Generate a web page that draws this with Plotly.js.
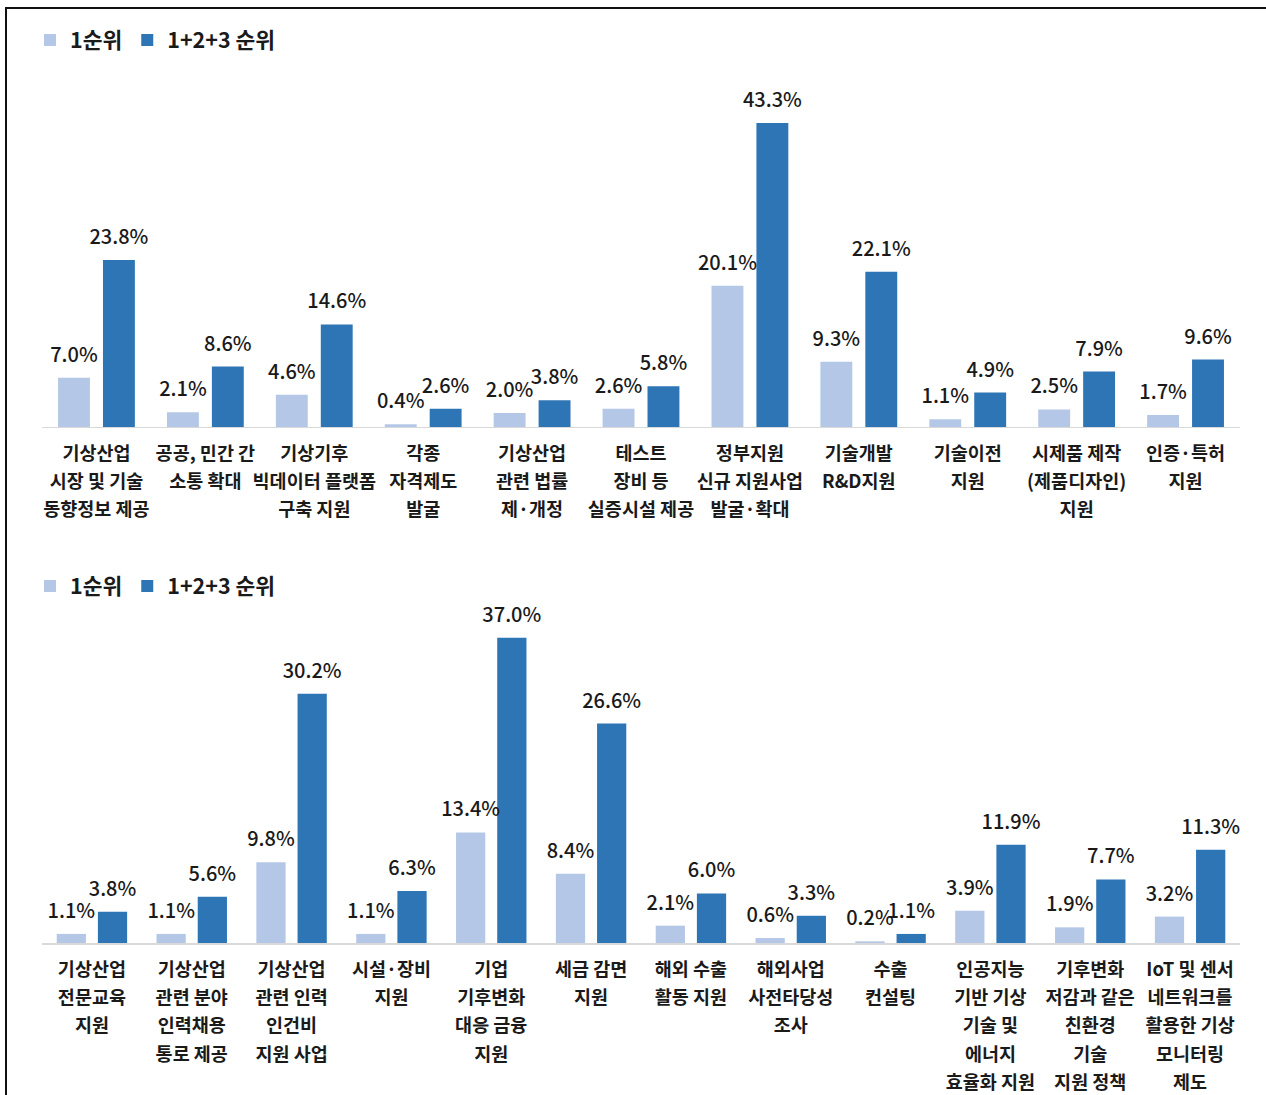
<!DOCTYPE html>
<html>
<head>
<meta charset="utf-8">
<script src="https://cdn.plot.ly/plotly-3.0.1.min.js"></script>
<style>
  html, body { margin: 0; padding: 0; background: #ffffff; }
  #chart { width: 1266px; height: 1095px; position: absolute; left: 0; top: 0; }
  #frame { position: absolute; left: 5px; top: 7px; width: 1400px; height: 1200px;
           border-left: 2px solid #111; border-top: 2px solid #111; pointer-events: none; }
</style>
</head>
<body>
<div id="chart"></div>
<div id="frame"></div>
<script>
// ---- Top chart data ----
const topCategories = [
  '기상산업<br>시장 및 기술<br>동향정보 제공',
  '공공, 민간 간<br>소통 확대',
  '기상기후<br>빅데이터 플랫폼<br>구축 지원',
  '각종<br>자격제도<br>발굴',
  '기상산업<br>관련 법률<br>제·개정',
  '테스트<br>장비 등<br>실증시설 제공',
  '정부지원<br>신규 지원사업<br>발굴·확대',
  '기술개발<br>R&D지원',
  '기술이전<br>지원',
  '시제품 제작<br>(제품디자인)<br>지원',
  '인증·특허<br>지원'
];
const topRank1 = [7.0, 2.1, 4.6, 0.4, 2.0, 2.6, 20.1, 9.3, 1.1, 2.5, 1.7];
const topRank123 = [23.8, 8.6, 14.6, 2.6, 3.8, 5.8, 43.3, 22.1, 4.9, 7.9, 9.6];

// ---- Bottom chart data ----
const botCategories = [
  '기상산업<br>전문교육<br>지원',
  '기상산업<br>관련 분야<br>인력채용<br>통로 제공',
  '기상산업<br>관련 인력<br>인건비<br>지원 사업',
  '시설·장비<br>지원',
  '기업<br>기후변화<br>대응 금융<br>지원',
  '세금 감면<br>지원',
  '해외 수출<br>활동 지원',
  '해외사업<br>사전타당성<br>조사',
  '수출<br>컨설팅',
  '인공지능<br>기반 기상<br>기술 및<br>에너지<br>효율화 지원',
  '기후변화<br>저감과 같은<br>친환경<br>기술<br>지원 정책',
  'IoT 및 센서<br>네트워크를<br>활용한 기상<br>모니터링<br>제도'
];
const botRank1 = [1.1, 1.1, 9.8, 1.1, 13.4, 8.4, 2.1, 0.6, 0.2, 3.9, 1.9, 3.2];
const botRank123 = [3.8, 5.6, 30.2, 6.3, 37.0, 26.6, 6.0, 3.3, 1.1, 11.9, 7.7, 11.3];

const seriesNames = ['1순위', '1+2+3 순위'];
const colors = ['#B4C7E7', '#2E75B6'];

const FONT = '"Noto Sans CJK KR", "Noto Sans", sans-serif';
const fmt = v => v.toFixed(1) + '%';
// tick labels: glyphs at 18.5px, line pitch from a larger base font size
const tickText = cats => cats.map(c => c.split('<br>').map(l => '<span style="font-size:18.5px">' + l + '</span>').join('<br>'));

function barTrace(x, y, name, color, xa, ya, legend) {
  return {
    type: 'bar', x: x, y: y, name: name, xaxis: xa, yaxis: ya, legend: legend,
    marker: { color: color, line: { width: 0 } },
    hoverinfo: 'skip'
  };
}
function labelTrace(x, y, xa, ya) {
  return {
    type: 'scatter', mode: 'markers+text', x: x, y: y, xaxis: xa, yaxis: ya,
    text: y.map(fmt), textposition: 'top center', cliponaxis: false,
    marker: { size: 16, opacity: 0 }, showlegend: false, hoverinfo: 'skip',
    textfont: { family: FONT, size: 20, color: '#1a1a1a', weight: 500 }
  };
}

const data = [
  barTrace(topCategories, topRank1, seriesNames[0], colors[0], 'x', 'y', 'legend'),
  barTrace(topCategories, topRank123, seriesNames[1], colors[1], 'x', 'y', 'legend'),
  barTrace(botCategories, botRank1, seriesNames[0], colors[0], 'x2', 'y2', 'legend2'),
  barTrace(botCategories, botRank123, seriesNames[1], colors[1], 'x2', 'y2', 'legend2'),
  labelTrace(topCategories, topRank1, 'x', 'y'),
  labelTrace(topCategories, topRank123, 'x', 'y'),
  labelTrace(botCategories, botRank1, 'x2', 'y2'),
  labelTrace(botCategories, botRank123, 'x2', 'y2')
];

const xCommon = {
  automargin: false, type: 'category',
  showline: true, linecolor: '#d9d9d9', linewidth: 1.5, showgrid: false, zeroline: false,
  ticks: '', tickangle: 0, ticklabelstandoff: 5,
  tickfont: { family: FONT, size: 21.8, color: '#1a1a1a', weight: 700 }
};
const yCommon = { automargin: false, showgrid: false, zeroline: false, showticklabels: false, showline: false, ticks: '' };

const legendCommon = {
  orientation: 'h', xref: 'container', yref: 'container', xanchor: 'left', yanchor: 'middle',
  font: { family: FONT, size: 21.5, color: '#1a1a1a', weight: 700 },
  bgcolor: 'rgba(0,0,0,0)', itemclick: false, itemdoubleclick: false, traceorder: 'normal'
};

const layout = {
  width: 1266, height: 1095,
  margin: { l: 42, r: 26, t: 60, b: 152, autoexpand: false },
  paper_bgcolor: 'rgba(0,0,0,0)', plot_bgcolor: 'rgba(0,0,0,0)',
  barmode: 'group', bargap: 0.175, bargroupgap: 0.29,
  scattermode: 'group', scattergap: 0.175,
  showlegend: true,
  xaxis: Object.assign({ anchor: 'y', tickvals: topCategories, ticktext: tickText(topCategories) }, xCommon),
  yaxis: Object.assign({ domain: [0.5844, 0.9819], range: [0, 50], anchor: 'x' }, yCommon),
  xaxis2: Object.assign({ anchor: 'y2', tickvals: botCategories, ticktext: tickText(botCategories) }, xCommon),
  yaxis2: Object.assign({ domain: [0, 0.3737], range: [0, 40], anchor: 'x2' }, yCommon),
  legend: Object.assign({ x: 30 / 1266, y: 1 - 40 / 1095 }, legendCommon),
  legend2: Object.assign({ x: 30 / 1266, y: 1 - 586 / 1095 }, legendCommon)
};

Plotly.newPlot('chart', data, layout, { displayModeBar: false, staticPlot: true });
</script>
</body>
</html>
